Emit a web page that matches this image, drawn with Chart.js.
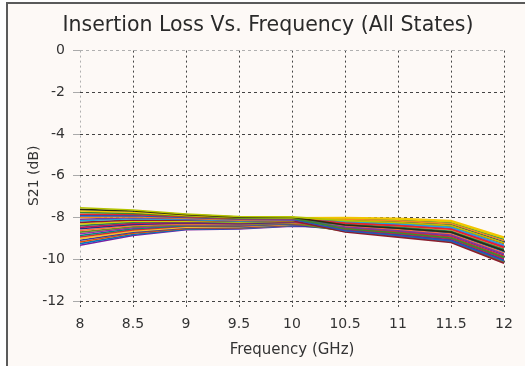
<!DOCTYPE html>
<html>
<head>
<meta charset="utf-8">
<script src="https://cdn.jsdelivr.net/npm/chart.js@4/dist/chart.umd.min.js"></script>
<style>
  html, body { margin: 0; padding: 0; background: #ffffff; }
  #wrap { width: 525px; height: 366px; position: relative; }
  canvas { display: block; }
</style>
</head>
<body>
<div id="wrap"><canvas id="c" width="525" height="366"></canvas></div>
<script>
// ---- data (frequency in GHz, S21 in dB) ----
const titleText = 'Insertion Loss Vs. Frequency (All States)';
const xTitle = 'Frequency (GHz)';
const yTitle = 'S21 (dB)';
const freqs = [8, 8.5, 9, 9.5, 10, 10.5, 11, 11.5, 12];

const S01 = [-7.53, -7.64, -7.83, -7.95, -7.97, -8.15, -8.24, -8.38, -9.21];
const S02 = [-7.61, -7.69, -7.86, -7.98, -7.99, -8.36, -8.51, -8.70, -9.59];
const S03 = [-7.69, -7.75, -7.90, -8.00, -8.01, -8.00, -8.04, -8.15, -8.94];
const S04 = [-7.76, -7.80, -7.93, -8.03, -8.03, -8.54, -8.74, -8.98, -9.91];
const S05 = [-7.84, -7.85, -7.96, -8.05, -8.05, -8.27, -8.39, -8.56, -9.43];
const S06 = [-7.92, -7.91, -8.00, -8.08, -8.07, -8.63, -8.86, -9.12, -10.07];
const S07 = [-8.00, -7.96, -8.03, -8.11, -8.08, -8.09, -8.16, -8.29, -9.10];
const S08 = [-8.08, -8.01, -8.06, -8.13, -8.10, -8.45, -8.63, -8.84, -9.75];
const S09 = [-8.15, -8.06, -8.09, -8.16, -8.12, -8.21, -8.31, -8.47, -9.32];
const S10 = [-8.23, -8.12, -8.13, -8.18, -8.14, -8.69, -8.94, -9.20, -10.19];
const S11 = [-8.31, -8.17, -8.16, -8.21, -8.16, -8.03, -8.08, -8.20, -8.99];
const S12 = [-8.39, -8.22, -8.19, -8.24, -8.18, -8.33, -8.47, -8.66, -9.53];
const S13 = [-8.47, -8.28, -8.23, -8.26, -8.20, -8.57, -8.78, -9.02, -9.97];
const S14 = [-8.54, -8.33, -8.26, -8.29, -8.22, -8.12, -8.20, -8.33, -9.16];
const S15 = [-8.62, -8.38, -8.29, -8.31, -8.24, -8.42, -8.59, -8.79, -9.70];
const S16 = [-8.70, -8.44, -8.33, -8.34, -8.26, -8.66, -8.90, -9.16, -10.13];
const S17 = [-8.78, -8.49, -8.36, -8.37, -8.27, -8.24, -8.35, -8.52, -9.37];
const S18 = [-8.86, -8.54, -8.39, -8.39, -8.29, -8.06, -8.12, -8.24, -9.05];
const S19 = [-8.93, -8.59, -8.42, -8.42, -8.31, -8.51, -8.70, -8.93, -9.86];
const S20 = [-9.01, -8.65, -8.46, -8.44, -8.33, -8.30, -8.43, -8.61, -9.48];
const S21 = [-9.09, -8.70, -8.49, -8.47, -8.35, -8.60, -8.82, -9.07, -10.02];
const S22 = [-9.17, -8.75, -8.52, -8.50, -8.37, -8.18, -8.27, -8.43, -9.26];
const S23 = [-9.25, -8.81, -8.56, -8.52, -8.39, -8.39, -8.55, -8.75, -9.64];
const S24 = [-9.33, -8.86, -8.58, -8.55, -8.41, -8.48, -8.66, -8.89, -9.80];

const stateSeries = [S01, S02, S03, S04, S05, S06, S07, S08, S09, S10, S11, S12,
                     S13, S14, S15, S16, S17, S18, S19, S20, S21, S22, S23, S24];
const lineColors = ['#b5c400', '#2b2b10', '#f2c500', '#3a8a2e', '#e4262c', '#2456b8',
                    '#f28c1c', '#7d3c98', '#1fa6d8', '#8b1e2e', '#d6d000', '#2e7d5b',
                    '#c2185b', '#1b2f8a', '#ff6f3c', '#6b8e23', '#9c27b0', '#00897b',
                    '#d32f2f', '#fbc02d', '#303f9f', '#e65100', '#0277bd', '#7b1fa2'];

// ---- chart ----
const FONT = "'DejaVu Sans', 'Liberation Sans', sans-serif";

const datasets = stateSeries.map((arr, i) => ({
  label: 'State ' + (i + 1),
  data: arr.map((v, j) => ({ x: freqs[j], y: v })),
  borderColor: lineColors[i % lineColors.length],
  backgroundColor: lineColors[i % lineColors.length],
  borderWidth: 1.6,
  pointRadius: 0,
  tension: 0,
  fill: false
}));

const framePlugin = {
  id: 'frame',
  beforeDraw(chart) {
    const ctx = chart.ctx;
    ctx.save();
    ctx.fillStyle = '#fefefe';
    ctx.fillRect(0, 0, chart.width, chart.height);
    ctx.fillStyle = '#fdf9f6';
    ctx.fillRect(7, 3, chart.width - 7, chart.height - 3);
    ctx.strokeStyle = '#5a5a5a';
    ctx.lineWidth = 2;
    ctx.beginPath();
    ctx.moveTo(7, chart.height);
    ctx.lineTo(7, 3);
    ctx.lineTo(chart.width, 3);
    ctx.stroke();
    ctx.restore();
  }
};

new Chart(document.getElementById('c'), {
  type: 'line',
  data: { datasets },
  plugins: [framePlugin],
  options: {
    responsive: false,
    animation: false,
    events: [],
    layout: { padding: { left: 11, right: 0, top: 0, bottom: 0 } },
    plugins: {
      legend: { display: false },
      tooltip: { enabled: false },
      title: {
        display: true,
        text: titleText,
        color: '#2a2a2a',
        font: { family: FONT, size: 20.5, weight: 'normal' },
        padding: { top: 13, bottom: 13 }
      }
    },
    scales: {
      x: {
        type: 'linear',
        min: 8, max: 12,
        ticks: {
          stepSize: 0.5, color: '#333', font: { family: FONT, size: 14 }, padding: 8, maxRotation: 0,
          callback: (v) => String(v)
        },
        grid: {
          color: (c) => (c.tick && c.tick.value === 8) ? '#b0b0b0' : '#444',
          lineWidth: 1,
          tickLength: 7,
          tickColor: '#555',
          tickBorderDash: [2, 2]
        },
        border: { display: false, dash: [2, 3] },
        title: { display: true, text: xTitle, color: '#333', font: { family: FONT, size: 15 }, padding: { top: 0, bottom: 7 } },
        afterFit(scale) { scale.height = 65; }
      },
      y: {
        type: 'linear',
        min: -12, max: 0,
        ticks: { stepSize: 2, color: '#333', font: { family: FONT, size: 14 }, padding: 8 },
        grid: {
          color: (c) => (c.tick && c.tick.value === 0) ? '#b0b0b0' : '#444',
          lineWidth: 1,
          tickLength: 7,
          tickColor: '#aaa'
        },
        border: { display: false, dash: [3, 3] },
        title: { display: true, text: yTitle, color: '#333', font: { family: FONT, size: 14 }, padding: { top: 15, bottom: 0 } },
        afterFit(scale) { scale.width = 69; }
      },
      yRight: {
        type: 'linear',
        position: 'right',
        display: true,
        min: -12, max: 0,
        ticks: { display: false },
        grid: { display: false, drawTicks: false },
        border: { display: false },
        afterFit(scale) { scale.width = 21; }
      }
    }
  }
});
</script>
</body>
</html>
